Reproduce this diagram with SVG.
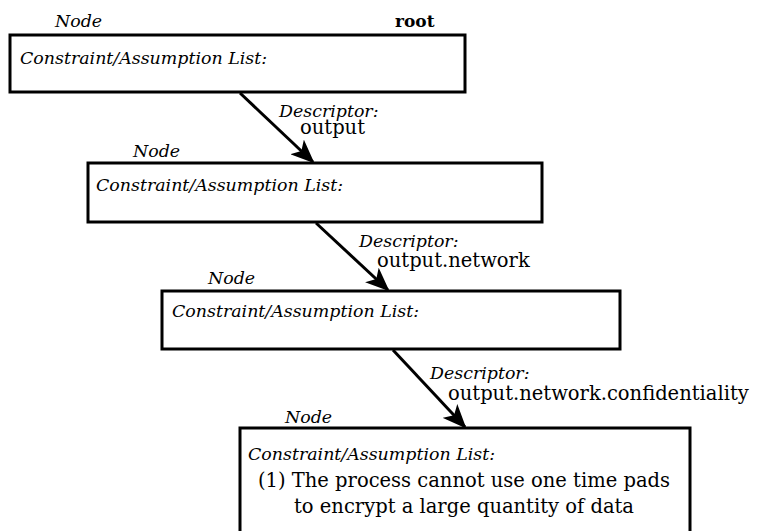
<svg xmlns="http://www.w3.org/2000/svg" width="758" height="531" viewBox="0 0 758 531">
  <defs>
    <style>
      .box { fill: #fff; stroke: #000; stroke-width: 3; }
      .edge { fill: none; stroke: #000; stroke-width: 3; }
      .it { font-family: "DejaVu Serif", serif; font-style: italic; font-size: 17.4px; fill: #000; }
      .rg { font-family: "DejaVu Serif", serif; font-size: 19.5px; fill: #000; }
      .bd { font-family: "DejaVu Serif", serif; font-weight: bold; font-size: 17px; fill: #000; }
    </style>
    <marker id="arrow" viewBox="0 0 24 20" refX="22" refY="10" markerWidth="24" markerHeight="20" markerUnits="userSpaceOnUse" orient="auto">
      <path d="M0,0 L24,10 L0,20 L6,10 Z" fill="#000"/>
    </marker>
  </defs>

  <g id="connectors">
    <line class="edge" x1="240" y1="93" x2="313" y2="162" marker-end="url(#arrow)"/>
    <line class="edge" x1="316" y1="223" x2="388" y2="290" marker-end="url(#arrow)"/>
    <line class="edge" x1="393" y1="350" x2="465" y2="427" marker-end="url(#arrow)"/>
    <text class="it" x="279" y="117">Descriptor:</text>
    <text class="rg" x="300" y="134">output</text>
    <text class="it" x="359" y="247">Descriptor:</text>
    <text class="rg" x="377" y="267">output.network</text>
    <text class="it" x="430" y="379">Descriptor:</text>
    <text class="rg" x="448" y="400">output.network.confidentiality</text>
  </g>

  <g id="node-root">
    <text class="it" x="55" y="27">Node</text>
    <text class="bd" x="395" y="27">root</text>
    <rect class="box" x="10" y="35" width="455" height="57"/>
    <text class="it" x="20" y="64">Constraint/Assumption List:</text>
  </g>

  <g id="node-output">
    <text class="it" x="133" y="157">Node</text>
    <rect class="box" x="88" y="163" width="454" height="59"/>
    <text class="it" x="96" y="191">Constraint/Assumption List:</text>
  </g>

  <g id="node-network">
    <text class="it" x="208" y="284">Node</text>
    <rect class="box" x="162" y="291" width="458" height="58"/>
    <text class="it" x="172" y="317">Constraint/Assumption List:</text>
  </g>

  <g id="node-confidentiality">
    <text class="it" x="285" y="423">Node</text>
    <rect class="box" x="240" y="428" width="450" height="110"/>
    <text class="it" x="248" y="460">Constraint/Assumption List:</text>
    <text class="rg" x="464" y="487" text-anchor="middle">(1) The process cannot use one time pads</text>
    <text class="rg" x="464" y="513" text-anchor="middle">to encrypt a large quantity of data</text>
  </g>
</svg>
